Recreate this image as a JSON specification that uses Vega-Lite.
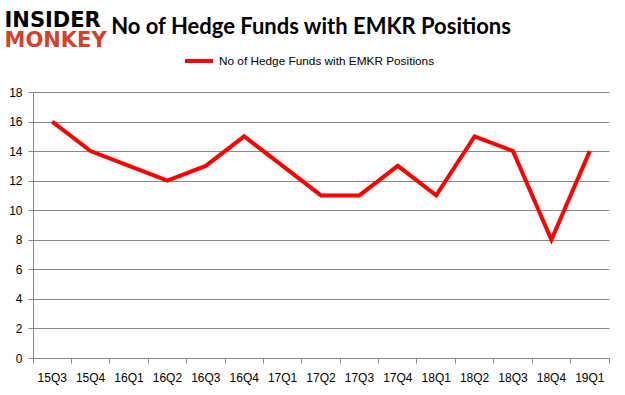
{
  "$schema": "https://vega.github.io/schema/vega-lite/v6.json",
  "width": 576,
  "height": 266,
  "autosize": "none",
  "padding": {"left": 33, "top": 92, "right": 16, "bottom": 37},
  "background": "white",
  "config": {"view": {"stroke": null}, "font": "Lato"},
  "title": {
    "text": "No of Hedge Funds with EMKR Positions",
    "font": "Lato",
    "fontSize": 22,
    "fontWeight": "bold",
    "color": "#000000",
    "anchor": "middle",
    "offset": 0,
    "dy": 30,
    "dx": -10
  },
  "data": {
    "values": [
      {"q": "15Q3", "v": 16, "s": "No of Hedge Funds with EMKR Positions"},
      {"q": "15Q4", "v": 14, "s": "No of Hedge Funds with EMKR Positions"},
      {"q": "16Q1", "v": 13, "s": "No of Hedge Funds with EMKR Positions"},
      {"q": "16Q2", "v": 12, "s": "No of Hedge Funds with EMKR Positions"},
      {"q": "16Q3", "v": 13, "s": "No of Hedge Funds with EMKR Positions"},
      {"q": "16Q4", "v": 15, "s": "No of Hedge Funds with EMKR Positions"},
      {"q": "17Q1", "v": 13, "s": "No of Hedge Funds with EMKR Positions"},
      {"q": "17Q2", "v": 11, "s": "No of Hedge Funds with EMKR Positions"},
      {"q": "17Q3", "v": 11, "s": "No of Hedge Funds with EMKR Positions"},
      {"q": "17Q4", "v": 13, "s": "No of Hedge Funds with EMKR Positions"},
      {"q": "18Q1", "v": 11, "s": "No of Hedge Funds with EMKR Positions"},
      {"q": "18Q2", "v": 15, "s": "No of Hedge Funds with EMKR Positions"},
      {"q": "18Q3", "v": 14, "s": "No of Hedge Funds with EMKR Positions"},
      {"q": "18Q4", "v": 8, "s": "No of Hedge Funds with EMKR Positions"},
      {"q": "19Q1", "v": 14, "s": "No of Hedge Funds with EMKR Positions"}
    ]
  },
  "mark": {"type": "line", "strokeWidth": 4, "strokeCap": "butt"},
  "encoding": {
    "x": {
      "field": "q",
      "type": "ordinal",
      "sort": null,
      "scale": {"type": "band", "paddingInner": 0, "paddingOuter": 0},
      "axis": {
        "title": "MONKEY",
        "titleFont": "DejaVu Sans",
        "titleFontSize": 21,
        "titleFontWeight": "bold",
        "titleColor": "#d4412c",
        "titleAnchor": "start",
        "titleAlign": "left",
        "titleBaseline": "alphabetic",
        "titleX": -29,
        "titleY": -312,
        "labelAngle": 0,
        "labelFont": "Liberation Sans",
        "labelFontSize": 12,
        "labelColor": "#000000",
        "labelPadding": 9,
        "domainColor": "#888888",
        "tickColor": "#888888",
        "tickSize": 5,
        "bandPosition": 1,
        "tickExtra": true,
        "labelOffset": 0,
        "grid": false
      }
    },
    "y": {
      "field": "v",
      "type": "quantitative",
      "scale": {"domain": [0, 18]},
      "axis": {
        "title": "INSIDER",
        "titleFont": "DejaVu Sans",
        "titleFontSize": 21,
        "titleFontWeight": "bold",
        "titleColor": "#000000",
        "titleAngle": 0,
        "titleAlign": "left",
        "titleBaseline": "alphabetic",
        "titleX": -29,
        "titleY": -66,
        "values": [0, 2, 4, 6, 8, 10, 12, 14, 16, 18],
        "labelFont": "Liberation Sans",
        "labelFontSize": 12,
        "labelColor": "#000000",
        "labelPadding": 6,
        "domainColor": "#888888",
        "tickColor": "#888888",
        "tickSize": 5,
        "gridColor": "#888888",
        "gridWidth": 1
      }
    },
    "color": {
      "field": "s",
      "type": "nominal",
      "scale": {"range": ["#ff0000"]},
      "legend": {
        "title": null,
        "orient": "none",
        "legendX": 150,
        "legendY": -47,
        "symbolType": "stroke",
        "symbolStrokeWidth": 4,
        "symbolSize": 784,
        "labelFont": "Liberation Sans",
        "labelFontSize": 11.8,
        "labelLimit": 400,
        "labelColor": "#000000"
      }
    }
  }
}
